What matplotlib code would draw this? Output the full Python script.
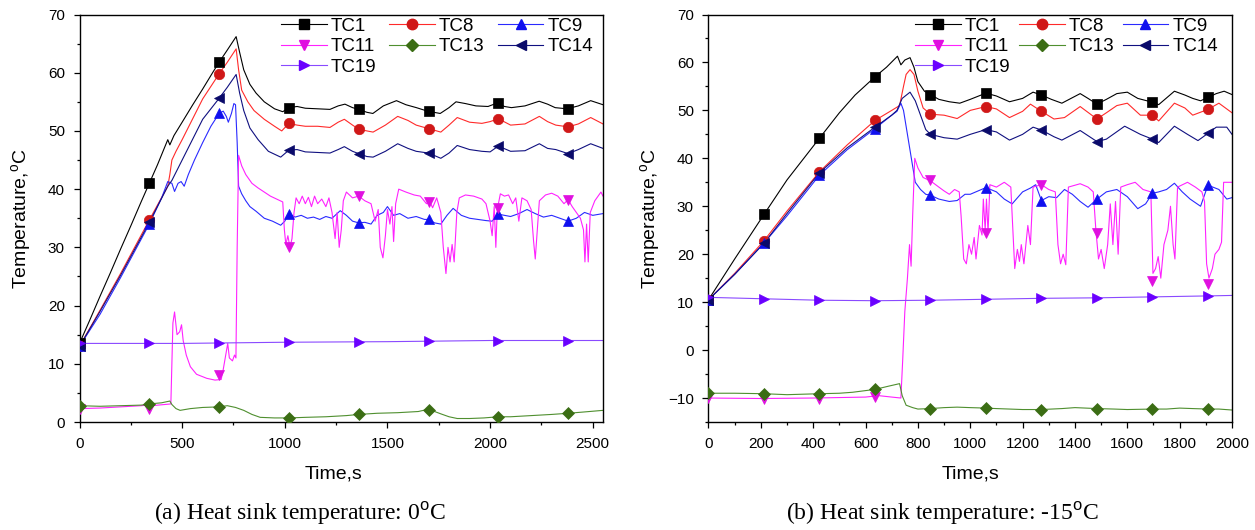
import numpy as np
import matplotlib
matplotlib.use("Agg")
import matplotlib.pyplot as plt
from matplotlib.lines import Line2D
from matplotlib.ticker import MultipleLocator

plt.rcParams['font.family'] = ['Liberation Sans', 'DejaVu Sans']
plt.rcParams['mathtext.fontset'] = 'custom'
plt.rcParams['mathtext.rm'] = 'Liberation Sans'

# ---------------- Panel (a): heat sink 0 C ----------------
a_tc1_t = [0, 50, 100, 150, 200, 250, 300, 340, 380, 430, 440, 460, 500, 550, 600, 650, 680, 720, 763, 780,
           800, 830, 860, 900, 950, 990, 1020, 1060, 1100, 1160, 1220, 1260, 1293, 1330, 1360, 1400, 1429,
           1480, 1544, 1590, 1641, 1695, 1757, 1800, 1834, 1880, 1931, 1990, 2035, 2070, 2104, 2170, 2239,
           2280, 2317, 2375, 2430, 2490, 2550]
a_tc1_v = [13.5, 17.5, 21.6, 25.6, 29.7, 33.7, 37.8, 41.0, 44.2, 48.5, 47.6, 49.2, 51.5, 54.4, 57.2, 60.1,
           61.8, 63.9, 66.2, 63.5, 60.5, 58.0, 56.5, 55.0, 53.8, 53.3, 54.0, 54.2, 53.9, 53.8, 53.7, 54.3,
           54.6, 54.0, 53.7, 53.2, 53.0, 54.3, 55.2, 54.5, 54.0, 53.4, 53.0, 54.0, 55.0, 54.7, 54.3, 54.2,
           54.8, 54.2, 54.0, 54.3, 55.1, 54.6, 54.0, 53.8, 54.3, 55.2, 54.5]

a_tc8_t = [0, 100, 200, 340, 430, 440, 450, 470, 500, 550, 600, 680, 720, 763, 775, 790, 820, 850, 900, 950,
           985, 1020, 1060, 1100, 1160, 1220, 1260, 1290, 1330, 1360, 1400, 1430, 1490, 1550, 1600, 1640,
           1700, 1760, 1800, 1840, 1900, 1960, 2000, 2040, 2100, 2170, 2240, 2280, 2320, 2380, 2430, 2490, 2550]
a_tc8_v = [13.0, 19.2, 25.5, 34.7, 40.5, 42.5, 45.0, 46.5, 48.5, 52.0, 55.5, 59.8, 61.8, 64.1, 60.5, 57.0,
           55.0, 53.5, 52.0, 50.8, 50.0, 51.3, 51.0, 50.8, 50.8, 50.6, 51.5, 52.0, 51.0, 50.3, 50.0, 49.8,
           51.0, 52.5, 51.8, 51.0, 50.4, 49.8, 51.0, 52.3, 51.5, 51.3, 51.6, 52.1, 51.0, 51.2, 52.5, 51.6,
           51.0, 50.7, 51.2, 52.3, 51.2]

a_tc9_t = [0, 100, 200, 340, 400, 430, 450, 463, 480, 495, 510, 530, 560, 600, 640, 680, 700, 715, 725, 740,
           752, 760, 768, 775, 790, 810, 830, 860, 900, 940, 980, 1000, 1020, 1050, 1080, 1110, 1140, 1170,
           1200, 1230, 1270, 1300, 1330, 1360, 1390, 1420, 1450, 1480, 1500, 1530, 1560, 1600, 1640, 1680,
           1700, 1730, 1760, 1790, 1820, 1860, 1900, 1940, 1980, 2010, 2040, 2070, 2100, 2140, 2180, 2220,
           2260, 2300, 2340, 2380, 2420, 2460, 2500, 2550]
a_tc9_v = [13.0, 18.5, 24.8, 34.0, 38.5, 41.3, 41.0, 39.6, 41.0, 41.3, 40.5, 42.5, 45.0, 48.0, 50.8, 53.0,
           53.4, 52.5, 51.5, 53.0, 54.7, 54.5, 48.0, 40.5, 39.2, 38.0, 37.0, 36.2, 35.0, 34.5, 33.8, 34.5,
           35.8, 35.2, 35.5, 35.0, 35.2, 34.8, 35.3, 35.0, 36.3, 35.5, 34.5, 34.2, 34.3, 34.0, 35.5, 36.0,
           37.0, 35.5, 35.8, 35.0, 35.3, 34.8, 34.8, 34.2, 34.0, 35.5, 36.7, 35.5, 35.0, 34.8, 34.6, 34.5,
           35.7, 35.5, 35.3, 35.8, 36.5, 35.8, 35.2, 35.5, 35.0, 34.5, 35.0, 36.0, 35.5, 35.8]

a_tc11_t = [0, 100, 200, 300, 330, 340, 350, 440, 445, 455, 463, 475, 488, 497, 505, 520, 540, 570, 620, 660,
            690, 700, 715, 722, 730, 745, 755, 762, 768, 775, 790, 810, 840, 870, 900, 930, 960, 990, 998,
            1005, 1015, 1025, 1035, 1045, 1055, 1070, 1085, 1100, 1115, 1130, 1145, 1160, 1180, 1200, 1215,
            1230, 1245, 1255, 1265, 1275, 1285, 1300, 1330, 1360, 1390, 1420, 1440, 1455, 1465, 1478, 1490,
            1500, 1512, 1522, 1530, 1540, 1555, 1590, 1630, 1660, 1690, 1705, 1720, 1740, 1760, 1772, 1785,
            1795, 1805, 1815, 1825, 1838, 1850, 1880, 1920, 1960, 1980, 2000, 2010, 2020, 2028, 2035, 2050,
            2070, 2090, 2110, 2125, 2140, 2155, 2180, 2200, 2212, 2220, 2228, 2240, 2270, 2300, 2330, 2360,
            2380, 2400, 2420, 2440, 2455, 2462, 2470, 2478, 2488, 2510, 2540, 2550]
a_tc11_v = [2.3, 2.4, 2.6, 2.8, 2.9, 2.2, 2.8, 3.1, 3.1, 17.0, 18.9, 15.0, 15.5, 16.7, 14.0, 11.5, 9.5, 8.2,
            7.5, 7.2, 7.3, 9.0, 12.0, 13.5, 11.0, 10.5, 11.5, 11.0, 30.0, 45.8, 44.0, 42.5, 41.0, 40.2, 39.5,
            38.8, 38.3, 37.8, 33.0, 30.5, 32.0, 30.0, 31.5, 36.0, 38.5, 37.5, 38.8, 37.5, 38.6, 37.0, 38.8,
            37.5, 38.3, 37.0, 38.5, 36.0, 31.5, 36.0, 30.0, 33.0, 38.0, 39.5, 38.5, 38.8, 38.0, 37.5, 34.5,
            36.5, 30.0, 28.2, 32.0, 36.5, 34.0, 37.0, 31.0, 37.5, 40.0, 39.5, 39.0, 38.8, 37.5, 38.0, 36.8,
            38.5, 36.0, 30.0, 25.5, 30.0, 27.5, 30.5, 27.5, 36.0, 38.5, 39.0, 38.8, 38.3, 37.5, 34.5, 32.0,
            37.0, 30.0, 36.5, 39.2, 38.8, 39.0, 37.5, 38.5, 34.5, 38.5, 38.0, 36.5, 31.0, 28.0, 32.0, 38.0,
            39.0, 39.3, 38.8, 37.5, 38.2, 37.0, 36.0, 35.0, 33.0, 27.5, 34.0, 27.5, 36.0, 38.0, 39.5, 38.8]

a_tc13_t = [0, 100, 200, 300, 340, 400, 440, 450, 470, 490, 540, 600, 680, 720, 760, 800, 840, 880, 950, 1020,
            1100, 1200, 1300, 1360, 1450, 1550, 1650, 1700, 1730, 1760, 1800, 1840, 1900, 1970, 2040, 2100,
            2200, 2300, 2380, 2450, 2550]
a_tc13_v = [2.8, 2.7, 2.8, 2.9, 3.1, 3.3, 3.6, 3.0, 2.3, 2.0, 2.3, 2.5, 2.6, 2.8, 2.5, 2.0, 1.3, 0.8, 0.7,
            0.7, 0.8, 0.9, 1.1, 1.3, 1.5, 1.6, 1.8, 2.2, 1.8, 1.4, 0.9, 0.6, 0.6, 0.7, 0.9, 0.9, 1.1, 1.3,
            1.5, 1.7, 2.0]

a_tc14_t = [0, 100, 200, 340, 430, 450, 500, 550, 600, 680, 720, 763, 780, 800, 830, 870, 920, 980, 1020, 1060,
            1100, 1160, 1220, 1260, 1290, 1330, 1360, 1400, 1430, 1490, 1550, 1600, 1640, 1700, 1760, 1800,
            1840, 1900, 1960, 2000, 2040, 2100, 2170, 2240, 2280, 2320, 2380, 2430, 2490, 2550]
a_tc14_v = [13.0, 19.0, 25.2, 34.3, 40.5, 41.5, 45.0, 48.5, 52.0, 55.6, 57.5, 59.7, 56.5, 53.5, 50.5, 48.5,
            46.5, 45.5, 46.7, 46.8, 46.4, 46.3, 46.2, 46.8, 47.3, 46.5, 46.1, 45.6, 45.5, 46.5, 47.8, 47.0,
            46.5, 46.2, 45.3, 46.2, 47.5, 46.8, 46.5, 46.4, 47.4, 46.5, 46.6, 47.8, 47.0, 46.8, 46.1, 46.8,
            47.8, 47.0]

a_tc19_t = [0, 500, 1000, 1500, 2000, 2550]
a_tc19_v = [13.5, 13.5, 13.7, 13.8, 14.0, 14.0]

a_mark_t = [0, 340, 680, 1020, 1360, 1700, 2040, 2380]
a_mark = {
    'TC1': [13.5, 41.0, 61.8, 54.0, 53.7, 53.4, 54.8, 53.8],
    'TC8': [13.0, 34.7, 59.8, 51.3, 50.3, 50.4, 52.1, 50.7],
    'TC9': [13.0, 34.0, 53.0, 35.8, 34.2, 34.8, 35.7, 34.5],
    'TC11': [2.3, 2.3, 8.0, 30.0, 38.8, 37.8, 36.7, 38.2],
    'TC13': [2.8, 3.1, 2.6, 0.7, 1.3, 2.1, 0.9, 1.5],
    'TC14': [13.0, 34.3, 55.6, 46.7, 46.1, 46.2, 47.4, 46.1],
    'TC19': [13.5, 13.5, 13.6, 13.7, 13.8, 13.9, 14.0, 14.0],
}

# ---------------- Panel (b): heat sink -15 C ----------------
b_tc1_t = [0, 100, 212, 300, 424, 500, 560, 636, 680, 722, 735, 750, 770, 785, 800, 825, 848, 880, 920, 960,
           1000, 1060, 1100, 1150, 1200, 1240, 1272, 1310, 1350, 1420, 1450, 1484, 1520, 1560, 1600, 1640,
           1696, 1720, 1780, 1820, 1850, 1880, 1908, 1940, 1970, 2000]
b_tc1_v = [10.5, 19.0, 28.3, 35.5, 44.2, 49.5, 53.2, 57.0, 59.0, 61.3, 59.5, 60.5, 61.0, 59.0, 56.0, 54.0,
           53.3, 52.3, 51.8, 51.5, 52.3, 53.6, 53.0, 51.8, 52.5, 53.8, 53.2, 52.3, 51.5, 53.5, 52.5, 51.3,
           52.3, 53.5, 53.8, 52.5, 51.7, 51.2, 54.0, 53.2, 52.5, 52.0, 52.7, 53.5, 54.0, 53.3]

b_tc8_t = [0, 100, 212, 300, 424, 530, 636, 700, 730, 745, 755, 770, 785, 800, 820, 848, 900, 950, 1000, 1060,
           1100, 1150, 1200, 1230, 1272, 1320, 1360, 1420, 1484, 1520, 1560, 1600, 1650, 1696, 1720, 1780,
           1820, 1850, 1908, 1950, 2000]
b_tc8_v = [10.5, 16.0, 22.8, 29.0, 37.2, 42.8, 47.9, 50.0, 51.0, 55.0, 57.5, 58.5, 57.5, 54.0, 50.5, 49.2,
           49.0, 48.3, 50.0, 50.8, 50.3, 48.5, 49.8, 51.3, 49.8, 48.2, 48.5, 50.8, 48.2, 49.5, 51.0, 51.5,
           49.0, 49.0, 47.8, 51.5, 50.5, 49.0, 50.2, 51.5, 49.5]

b_tc9_t = [0, 100, 212, 300, 424, 530, 636, 700, 720, 735, 745, 760, 775, 790, 810, 830, 848, 880, 920, 950,
           980, 1000, 1030, 1060, 1100, 1130, 1160, 1200, 1230, 1250, 1272, 1300, 1330, 1360, 1390, 1420,
           1450, 1484, 1520, 1560, 1600, 1640, 1670, 1696, 1720, 1750, 1780, 1810, 1840, 1880, 1908, 1950,
           1980, 2000]
b_tc9_v = [10.5, 15.8, 22.3, 28.0, 36.5, 41.8, 46.2, 49.0, 49.8, 51.5, 50.0, 45.0, 40.0, 35.0, 33.5, 32.5,
           32.3, 31.5, 31.0, 31.2, 32.5, 32.5, 33.2, 33.9, 33.0, 31.5, 30.5, 33.0, 33.8, 34.5, 31.2, 32.0,
           31.8, 33.5, 32.5, 31.0, 29.8, 31.5, 33.0, 33.5, 32.0, 29.5, 30.5, 32.7, 33.0, 33.5, 34.8, 33.0,
           31.5, 30.0, 34.4, 33.5, 31.5, 31.8]

b_tc11_t = [0, 200, 400, 600, 650, 700, 735, 742, 750, 760, 768, 774, 780, 788, 800, 820, 848, 880, 900, 920,
            940, 958, 965, 975, 985, 995, 1005, 1015, 1022, 1035, 1045, 1050, 1057, 1062, 1068, 1075, 1100,
            1130, 1155, 1162, 1170, 1180, 1188, 1195, 1205, 1220, 1230, 1240, 1272, 1300, 1325, 1335, 1345,
            1355, 1365, 1375, 1420, 1450, 1470, 1480, 1490, 1500, 1512, 1525, 1535, 1545, 1555, 1565, 1575,
            1600, 1630, 1660, 1690, 1698, 1708, 1718, 1728, 1740, 1755, 1765, 1775, 1782, 1792, 1830, 1860,
            1885, 1895, 1903, 1912, 1925, 1935, 1950, 1960, 1968, 2000]
b_tc11_v = [-10.0, -10.1, -10.0, -9.8, -9.5, -9.8, -10.0, -2.0, 8.0, 15.0, 22.0, 17.5, 28.0, 40.0, 38.0,
            36.0, 35.3, 34.0, 33.2, 32.5, 33.5, 33.0, 28.0, 19.0, 18.0, 22.0, 20.0, 23.5, 19.0, 26.0, 24.0,
            31.5, 25.0, 31.5, 24.5, 34.5, 34.0, 35.0, 34.0, 26.0, 17.0, 21.0, 18.5, 22.0, 18.0, 26.0, 22.0,
            34.0, 34.5, 33.5, 33.0, 22.0, 18.0, 20.0, 17.8, 34.0, 34.7, 34.0, 33.0, 25.0, 19.0, 21.0, 17.0,
            22.0, 30.5, 22.0, 31.0, 20.0, 34.0, 34.5, 35.0, 33.5, 33.0, 16.0, 17.0, 19.5, 15.0, 22.0, 25.0,
            30.0, 22.0, 19.0, 34.0, 35.0, 34.0, 33.0, 31.0, 18.0, 15.0, 17.0, 20.0, 21.0, 22.5, 35.0, 35.0]

b_tc13_t = [0, 100, 212, 300, 424, 500, 550, 636, 690, 730, 740, 755, 780, 800, 848, 900, 950, 1000, 1060,
            1100, 1200, 1272, 1350, 1400, 1484, 1550, 1600, 1696, 1750, 1800, 1850, 1908, 1950, 2000]
b_tc13_v = [-9.0, -9.0, -9.1, -9.3, -9.1, -9.0, -8.8, -8.2, -7.5, -7.0, -9.5, -11.5, -12.0, -12.3, -12.2,
            -12.0, -11.9, -12.0, -12.1, -12.2, -12.4, -12.4, -12.2, -12.0, -12.2, -12.3, -12.4, -12.3, -12.3,
            -12.1, -12.2, -12.3, -12.3, -12.5]

b_tc14_t = [0, 100, 212, 300, 424, 530, 636, 700, 720, 740, 770, 790, 810, 830, 848, 900, 950, 1000, 1060,
            1100, 1150, 1200, 1240, 1272, 1320, 1350, 1420, 1484, 1520, 1590, 1650, 1696, 1720, 1780, 1830,
            1870, 1908, 1940, 1980, 2000]
b_tc14_v = [10.5, 15.8, 22.3, 28.5, 37.0, 42.2, 46.5, 49.0, 50.0, 52.5, 53.8, 52.0, 49.0, 46.0, 45.0, 44.3,
            44.0, 45.0, 46.0, 45.5, 43.8, 45.0, 46.5, 45.9, 44.5, 43.8, 45.8, 43.5, 44.0, 46.7, 45.0, 44.0,
            43.3, 46.7, 45.0, 43.7, 45.2, 46.5, 46.5, 45.0]

b_tc19_t = [0, 212, 424, 636, 848, 1060, 1272, 1484, 1696, 1908, 2000]
b_tc19_v = [11.0, 10.7, 10.4, 10.3, 10.4, 10.6, 10.8, 10.9, 11.1, 11.3, 11.4]

b_mark_t = [0, 212, 424, 636, 848, 1060, 1272, 1484, 1696, 1908]
b_mark = {
    'TC1': [10.5, 28.3, 44.2, 57.0, 53.3, 53.6, 53.2, 51.3, 51.7, 52.7],
    'TC8': [10.5, 22.8, 37.2, 47.9, 49.2, 50.8, 49.8, 48.2, 49.0, 50.2],
    'TC9': [10.5, 22.3, 36.5, 46.2, 32.3, 33.9, 31.2, 31.5, 32.7, 34.4],
    'TC11': [-10.0, -10.3, -10.1, -9.7, 35.5, 24.5, 34.5, 24.5, 14.5, 13.8],
    'TC13': [-9.0, -9.1, -9.1, -8.2, -12.2, -12.1, -12.4, -12.2, -12.3, -12.3],
    'TC14': [10.5, 22.3, 37.0, 46.5, 45.0, 46.0, 45.9, 43.5, 44.0, 45.2],
    'TC19': [11.0, 10.7, 10.4, 10.3, 10.4, 10.6, 10.8, 10.9, 11.1, 11.3],
}

names = ['TC1', 'TC8', 'TC9', 'TC11', 'TC13', 'TC14', 'TC19']
line_colors = {'TC1': '#000000', 'TC8': '#ff2a2a', 'TC9': '#2a2aff', 'TC11': '#ff22ff',
               'TC13': '#4f8f2f', 'TC14': '#101080', 'TC19': '#8a4aff'}
mark_colors = {'TC1': '#000000', 'TC8': '#d01818', 'TC9': '#1010ee', 'TC11': '#e010e0',
               'TC13': '#3b6d14', 'TC14': '#0a0a6a', 'TC19': '#6a00ff'}
markers = {'TC1': 's', 'TC8': 'o', 'TC9': '^', 'TC11': 'v', 'TC13': 'D', 'TC14': '<', 'TC19': '>'}
msizes = {'TC1': 7, 'TC8': 7.5, 'TC9': 7.5, 'TC11': 7.5, 'TC13': 6.3, 'TC14': 7.5, 'TC19': 7.5}

series_a = {'TC1': (a_tc1_t, a_tc1_v), 'TC8': (a_tc8_t, a_tc8_v), 'TC9': (a_tc9_t, a_tc9_v),
            'TC11': (a_tc11_t, a_tc11_v), 'TC13': (a_tc13_t, a_tc13_v), 'TC14': (a_tc14_t, a_tc14_v),
            'TC19': (a_tc19_t, a_tc19_v)}
series_b = {'TC1': (b_tc1_t, b_tc1_v), 'TC8': (b_tc8_t, b_tc8_v), 'TC9': (b_tc9_t, b_tc9_v),
            'TC11': (b_tc11_t, b_tc11_v), 'TC13': (b_tc13_t, b_tc13_v), 'TC14': (b_tc14_t, b_tc14_v),
            'TC19': (b_tc19_t, b_tc19_v)}

fig = plt.figure(figsize=(12.55, 5.30), dpi=100)
ax_a = fig.add_axes([0.06335, 0.20377, 0.41713, 0.76887])
ax_b = fig.add_axes([0.56454, 0.20377, 0.41713, 0.76887])


def draw(ax, series, mark_t, mark_vals):
    for n in names:
        t, v = series[n]
        ax.plot(t, v, color=line_colors[n], lw=0.8, zorder=2)
        ax.plot(mark_t, mark_vals[n], linestyle='none', marker=markers[n], ms=msizes[n],
                mfc=mark_colors[n], mec=mark_colors[n], mew=0.5, zorder=3)


draw(ax_a, series_a, a_mark_t, a_mark)
draw(ax_b, series_b, b_mark_t, b_mark)

ax_a.set_xlim(0, 2550)
ax_a.set_ylim(0, 70)
ax_a.xaxis.set_major_locator(MultipleLocator(500))
ax_a.xaxis.set_minor_locator(MultipleLocator(250))
ax_a.yaxis.set_major_locator(MultipleLocator(10))
ax_a.yaxis.set_minor_locator(MultipleLocator(5))

ax_b.set_xlim(0, 2000)
ax_b.set_ylim(-15, 70)
ax_b.xaxis.set_major_locator(MultipleLocator(200))
ax_b.xaxis.set_minor_locator(MultipleLocator(100))
ax_b.yaxis.set_major_locator(MultipleLocator(10))
ax_b.yaxis.set_minor_locator(MultipleLocator(5))

order = ['TC1', 'TC11', 'TC19', 'TC8', 'TC13', 'TC9', 'TC14']
for ax, lx, cs, xl in ((ax_a, 0.3843, 0.7, 0.486), (ax_b, 0.3945, 0.45, 0.5)):
    for s in ax.spines.values():
        s.set_linewidth(1.0)
    ax.tick_params(which='major', direction='out', length=4.5, width=0.9, labelsize=11, pad=6)
    ax.tick_params(which='minor', direction='out', length=2.5, width=0.9)
    ax.tick_params(top=False, right=False, which='both')
    ax.set_xlabel('Time,s', fontsize=14, va='center')
    ax.xaxis.set_label_coords(xl, -0.128)
    ax.set_ylabel('Temperature,$^{\\rm o}$C', fontsize=14, va='center')
    ax.yaxis.set_label_coords(-0.11, 0.5)
    handles = [Line2D([], [], color=line_colors[n], lw=0.8, marker=markers[n], ms=msizes[n],
                      mfc=mark_colors[n], mec=mark_colors[n]) for n in order]
    ax.legend(handles, order, ncol=3, loc='upper left', bbox_to_anchor=(lx, 0.9926),
              frameon=False, fontsize=13.5, handlelength=2.45, handletextpad=0.2,
              columnspacing=cs, labelspacing=0.18, borderpad=0, borderaxespad=0)

fig.text(300 / 1255, 1 - 513 / 530, '(a) Heat sink temperature: 0$^{\\rm o}$C',
         family='Liberation Serif', fontsize=17, ha='center', va='center')
fig.text(942 / 1255, 1 - 513 / 530, '(b) Heat sink temperature: -15$^{\\rm o}$C',
         family='Liberation Serif', fontsize=17, ha='center', va='center')

fig.savefig('out.png', dpi=100)
